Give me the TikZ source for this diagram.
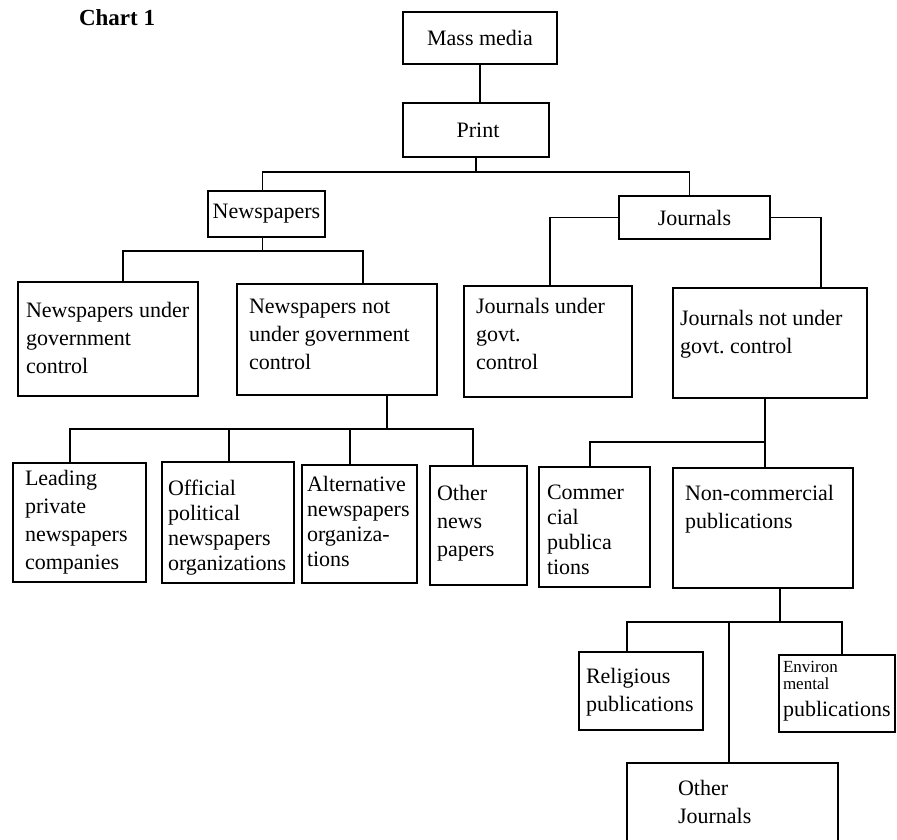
\documentclass[tikz,border=0pt]{standalone}
\usepackage{fontspec}
\setmainfont{Liberation Serif}
\begin{document}
\frenchspacing
\begin{tikzpicture}[x=1pt,y=-1pt,line width=1.4pt,
    box/.style={draw,inner ysep=2pt,outer sep=0pt,font=\fontsize{22}{28}\selectfont},
    cell/.style={box,align=flush left},
    tight/.style={font=\fontsize{22}{25}\selectfont}]
\useasboundingbox (0,0) rectangle (897,840);
\clip (0,0) rectangle (897,840);
\node[font=\bfseries\fontsize{23}{27}\selectfont,anchor=base west] (chart) at (75,26) {Chart 1};
\node[box,minimum width=154pt,minimum height=52pt] (mass) at (480,38) {Mass media};
\node[box,minimum width=146pt,minimum height=54pt] (print) at (476,130) {\hspace{4pt}Print};
\node[box,inner xsep=3pt,minimum width=117pt,minimum height=46pt] (news) at (266.5,214) {Newspapers};
\node[box,minimum width=151pt,minimum height=43pt] (jour) at (694.5,217.5) {Journals};
\node[cell,inner xsep=8pt,text width=164pt,minimum height=114pt,text depth=59pt] (ngov) at (108,339) {Newspapers under\\government\\control};
\node[cell,inner xsep=12pt,text width=176pt,minimum height=111pt,text depth=66pt] (nnon) at (337,339.5) {Newspapers not\\under government\\control};
\node[cell,inner xsep=12pt,text width=144pt,minimum height=111pt,text depth=72pt] (jgov) at (548,341.5) {Journals under\\govt.\\control};
\node[cell,inner xsep=7pt,text width=180pt,minimum height=110pt,text depth=51pt] (jnon) at (770,343) {Journals not under\\govt. control};
\node[cell,inner xsep=12pt,text width=109pt,minimum height=119pt,text depth=90pt] (lead) at (79.5,522.5) {Leading\\private\\newspapers\\companies};
\node[cell,tight,inner xsep=6pt,text width=120pt,minimum height=121pt,text depth=70pt] (offi) at (228,522.5) {Official\\political\\newspapers\\organizations};
\node[cell,tight,inner xsep=5pt,text width=105pt,minimum height=118pt,text depth=81pt] (alte) at (359.5,524) {Alternative\\newspapers\\organiza-\\tions};
\node[cell,inner xsep=7pt,text width=83pt,minimum height=119pt,text depth=66pt] (othn) at (478.5,525.5) {Other\\news\\papers};
\node[cell,tight,inner xsep=8pt,text width=95pt,minimum height=120pt,text depth=69pt] (comm) at (594.5,527) {Commer\\cial\\publica\\tions};
\node[cell,inner xsep=12pt,text width=156pt,minimum height=120pt,text depth=71pt] (ncom) at (763,528) {Non-commercial\\publications};
\node[cell,inner xsep=7pt,text width=110pt,minimum height=78pt,text depth=31pt] (reli) at (641,691) {Religious\\publications};
\node[cell,inner xsep=4pt,text width=108pt,minimum height=77pt,text depth=53pt] (envi) at (837,693.5) {{\fontsize{17}{18}\selectfont Environ\\[-11pt]mental}\\[-1pt]publications};
\node[cell,inner xsep=51pt,text width=109pt,minimum height=110pt,text depth=61pt] (othj) at (732.5,818) {Other\\Journals};

\draw (mass.south) -- (mass.south |- print.north);
\draw (print.south) -- ++(0,15) coordinate (pb);
\draw ([xshift=-4pt]news.north) |- (pb) -| ([xshift=-5pt]jour.north);
\draw ([xshift=-4pt]news.south) -- ++(0,14) coordinate (nb);
\draw ([xshift=15pt]ngov.north) |- (nb) -| ([xshift=26pt]nnon.north);
\draw (jour.west) -| ([xshift=2pt]jgov.north);
\draw (jour.east) -| ([xshift=51pt]jnon.north);
\draw ([xshift=50pt]nnon.south) -- ++(0,34) coordinate (nnb);
\draw ([xshift=-9.5pt]lead.north) |- (nnb);
\draw ([xshift=1pt]offi.north) |- (nnb);
\draw ([xshift=-9.5pt]alte.north) |- (nnb);
\draw ([xshift=-5.5pt]othn.north) |- (nnb);
\draw ([xshift=-5pt]jnon.south) -- ++(0,44) coordinate (jb) -- (jb |- ncom.north);
\draw ([xshift=-4.5pt]comm.north) |- (jb);
\draw ([xshift=17pt]ncom.south) -- ++(0,34) coordinate (cb);
\draw ([xshift=-14pt]reli.north) |- (cb) -| ([xshift=5pt]envi.north);
\draw ([xshift=-3.5pt]othj.north) |- (cb);
\end{tikzpicture}
\end{document}
